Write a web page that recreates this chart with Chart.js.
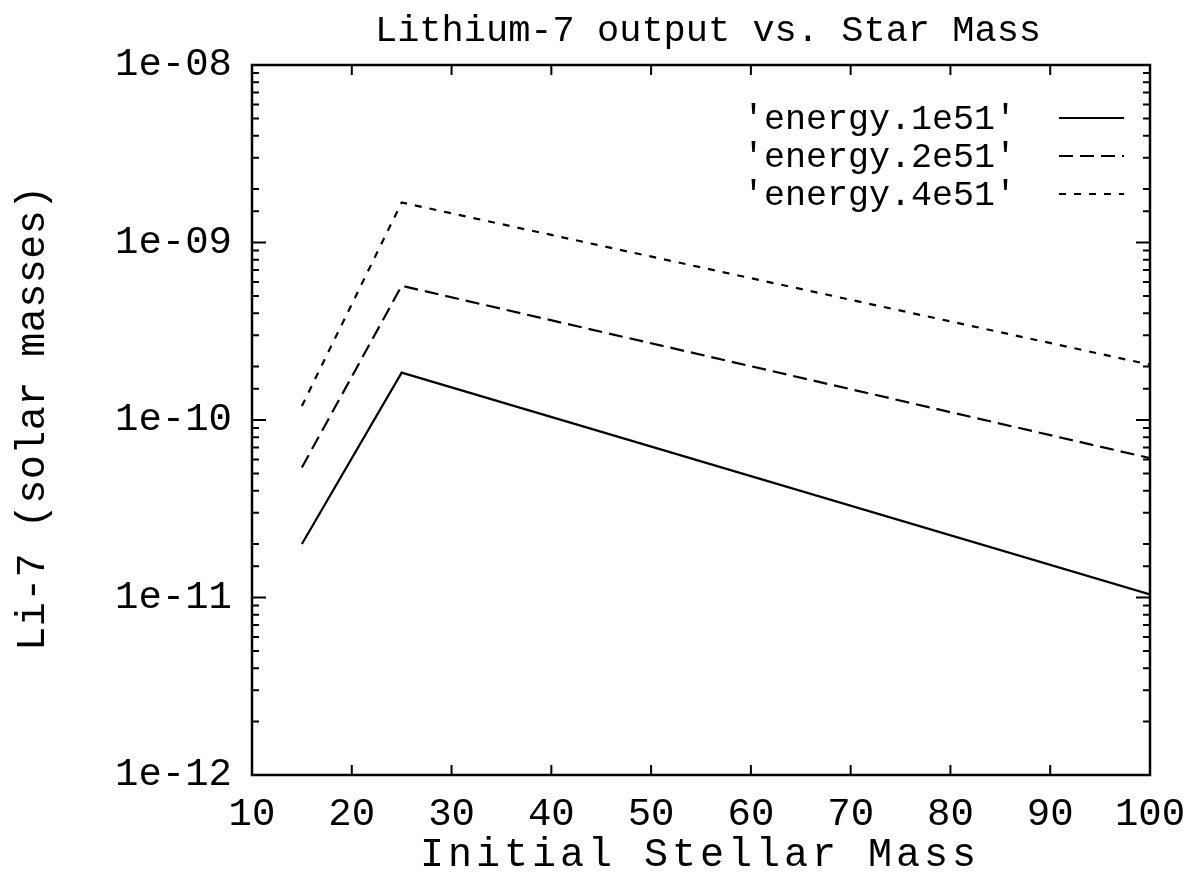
<!DOCTYPE html>
<html>
<head>
<meta charset="utf-8">
<script src="https://cdn.jsdelivr.net/npm/chart.js@4/dist/chart.umd.min.js"></script>
<style>
    body { margin: 0; background: #fff; }
    #wrap { width: 1188px; height: 878px; }
</style>
</head>
<body>
<div id="wrap"><canvas id="myChart" width="1188" height="878"></canvas></div>
<script>
// dati
let masses = [15, 25, 100];
let li7_1e51 = [2.0e-11, 1.85e-10, 1.04e-11];
let li7_2e51 = [5.4e-11, 5.7e-10, 6.1e-11];
let li7_4e51 = [1.2e-10, 1.68e-9, 2.05e-10];
let seriesNames = ["'energy.1e51'", "'energy.2e51'", "'energy.4e51'"];
let yMin = 1e-12;
let yMax = 1e-8;

let FONT = "'Liberation Mono', 'Courier New', monospace";

function isPow10(v) {
    let e = Math.log10(v);
    return Math.abs(e - Math.round(e)) < 1e-6;
}

function toPoints(ys) {
    return masses.map((m, i) => ({ x: m, y: ys[i] }));
}

// cornice, tacche interne, titoli e legenda stile gnuplot
let gnuplotFrame = {
    id: "gnuplotFrame",
    afterDraw(chart) {
        let ctx = chart.ctx;
        let area = chart.chartArea;
        let xs = chart.scales.x;
        let ys = chart.scales.y;
        ctx.save();
        ctx.strokeStyle = "#000";
        ctx.lineWidth = 2;

        ys.ticks.forEach(t => {
            let py = ys.getPixelForValue(t.value);
            let len = isPow10(t.value) ? 14 : 7;
            ctx.beginPath();
            ctx.moveTo(area.left, py);
            ctx.lineTo(area.left + len, py);
            ctx.moveTo(area.right, py);
            ctx.lineTo(area.right - len, py);
            ctx.stroke();
        });
        xs.ticks.forEach(t => {
            if (t.value <= xs.min || t.value >= xs.max) return;
            let px = xs.getPixelForValue(t.value);
            ctx.beginPath();
            ctx.moveTo(px, area.bottom);
            ctx.lineTo(px, area.bottom - 10);
            ctx.moveTo(px, area.top);
            ctx.lineTo(px, area.top + 10);
            ctx.stroke();
        });

        ctx.lineWidth = 2.5;
        ctx.strokeRect(area.left, area.top, area.right - area.left, area.bottom - area.top);

        ctx.fillStyle = "#000";
        ctx.textBaseline = "middle";
        ctx.textAlign = "center";
        ctx.font = "37px " + FONT;
        ctx.fillText("Lithium-7 output vs. Star Mass", 708, 31);

        ctx.font = "40px " + FONT;
        ctx.letterSpacing = "4px";
        ctx.fillText("Initial Stellar Mass", 700, 855);
        ctx.letterSpacing = "0.5px";
        ctx.save();
        ctx.translate(33, 418);
        ctx.rotate(-Math.PI / 2);
        ctx.fillText("Li-7 (solar masses)", 0, 0);
        ctx.restore();
        ctx.letterSpacing = "0px";

        // legenda: testo a sinistra, campione di linea a destra
        ctx.font = "35px " + FONT;
        let rowY = [118, 156, 194];
        chart.data.datasets.forEach((ds, i) => {
            ctx.textAlign = "right";
            ctx.fillText(ds.label, 1016, rowY[i] + 2);
            ctx.beginPath();
            ctx.lineWidth = 2;
            ctx.setLineDash(ds.borderDash || []);
            ctx.moveTo(1059, rowY[i]);
            ctx.lineTo(1124, rowY[i]);
            ctx.stroke();
            ctx.setLineDash([]);
        });
        ctx.restore();
    }
};

let ctx = document.getElementById("myChart").getContext("2d");

let myChart = new Chart(ctx, {
    type: "line",
    data: {
        datasets: [
            {
                label: seriesNames[0],
                data: toPoints(li7_1e51),
                borderColor: "#000",
                borderWidth: 2.2,
                borderDash: [],
            },
            {
                label: seriesNames[1],
                data: toPoints(li7_2e51),
                borderColor: "#000",
                borderWidth: 2.2,
                borderDash: [14, 7],
            },
            {
                label: seriesNames[2],
                data: toPoints(li7_4e51),
                borderColor: "#000",
                borderWidth: 2.2,
                borderDash: [7, 8],
            },
        ],
    },
    options: {
        responsive: false,
        animation: false,
        maintainAspectRatio: false,
        elements: {
            point: { radius: 0 },
            line: { tension: 0 },
        },
        layout: {
            padding: { top: 65, right: 38, left: 0, bottom: 0 },
        },
        scales: {
            x: {
                type: "linear",
                min: 10,
                max: 100,
                grid: { display: false, drawTicks: false },
                border: { display: false },
                ticks: {
                    stepSize: 10,
                    padding: 16,
                    color: "#000",
                    maxRotation: 0,
                    font: { family: FONT, size: 39 },
                },
                afterFit(scale) {
                    scale.height = 103;
                    scale.paddingLeft = 0;
                    scale.paddingRight = 0;
                },
            },
            y: {
                type: "logarithmic",
                min: yMin,
                max: yMax,
                grid: { display: false, drawTicks: false },
                border: { display: false },
                ticks: {
                    autoSkip: false,
                    padding: 20,
                    color: "#000",
                    font: { family: FONT, size: 39 },
                    callback: function (value) {
                        if (!isPow10(value)) return "";
                        let e = Math.round(Math.log10(value));
                        let s = String(Math.abs(e)).padStart(2, "0");
                        return "1e" + (e < 0 ? "-" : "+") + s;
                    },
                },
                afterFit(scale) {
                    scale.width = 252;
                    scale.paddingTop = 0;
                    scale.paddingBottom = 0;
                },
            },
        },
        plugins: {
            legend: { display: false },
            title: { display: false },
            tooltip: { enabled: false },
        },
    },
    plugins: [gnuplotFrame],
});
</script>
</body>
</html>
